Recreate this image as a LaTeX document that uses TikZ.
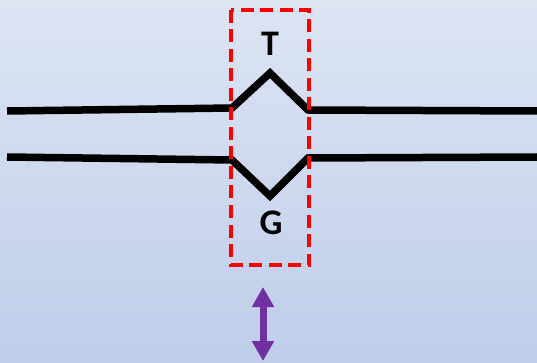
\documentclass[tikz,border=0pt]{standalone}
\usepackage{fontspec}
\setmainfont{Carlito}
\usetikzlibrary{arrows.meta}
\definecolor{bgtop}{RGB}{221,229,243}
\definecolor{bgbot}{RGB}{190,205,234}
\definecolor{boxred}{RGB}{255,0,0}
\definecolor{arrowpurple}{RGB}{112,48,160}
\tikzset{
  strand/.style={line width=7.5pt, black, line join=miter},
  window/.style={draw=boxred, line width=4pt, dash pattern=on 13pt off 6.5pt},
  base/.style={font=\bfseries\fontsize{36}{36}\selectfont, inner sep=0pt},
  shift arrow/.style={line width=7pt, arrowpurple,
    {Triangle[length=20pt,width=21pt]}-{Triangle[length=20pt,width=21pt]}}
}
\begin{document}
\begin{tikzpicture}[x=1pt,y=-1pt]
  \shade[top color=bgtop, bottom color=bgbot] (0,0) rectangle (537,363);
  \useasboundingbox (0,0) rectangle (537,363);

  % upper strand with the T bulge
  \coordinate (t0) at (7,111);
  \coordinate (t1) at (232,108);
  \coordinate (tp) at (270,73);
  \coordinate (t2) at (308,110);
  \coordinate (t3) at (537,111);
  \draw[strand] (t0) -- (t1) -- (tp) -- (t2) -- (t3);

  % lower strand with the G bulge
  \coordinate (b0) at (7,157);
  \coordinate (b1) at (232,160);
  \coordinate (bp) at (270,196);
  \coordinate (b2) at (308,158);
  \coordinate (b3) at (537,157);
  \draw[strand] (b0) -- (b1) -- (bp) -- (b2) -- (b3);

  % mismatch window
  \coordinate (w1) at (231,10);
  \coordinate (w2) at (309,265);
  \draw[window] (w1) rectangle (w2);

  \node[base] (T) at (270,44) {T};
  \node[base] (G) at (271,223) {G};

  % movement indicator
  \coordinate (a1) at (263,287);
  \coordinate (a2) at (263,361);
  \draw[shift arrow] (a1) -- (a2);
\end{tikzpicture}
\end{document}
